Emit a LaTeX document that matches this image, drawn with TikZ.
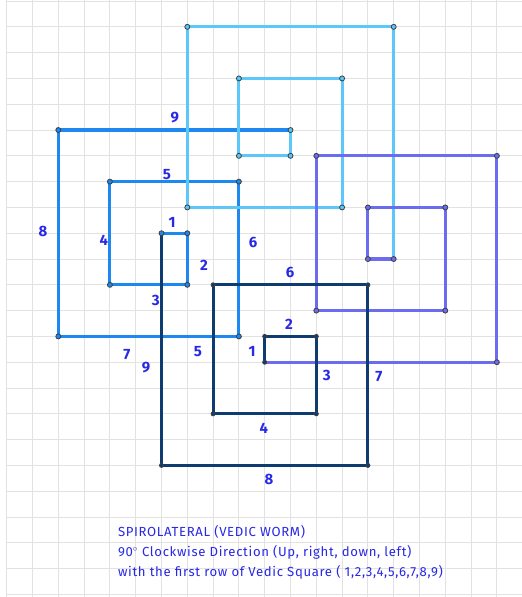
\documentclass[tikz,border=0pt]{standalone}
\usepackage{fontspec}
\setmainfont{Fira Sans}
\newfontfamily\captionfont[LetterSpace=5]{Fira Sans}
\definecolor{wormSky}{RGB}{92,200,250}
\definecolor{wormBlue}{RGB}{28,136,240}
\definecolor{wormViolet}{RGB}{108,108,240}
\definecolor{wormNavy}{RGB}{14,60,112}
\definecolor{wormLabel}{RGB}{40,40,230}
\definecolor{wormGrid}{RGB}{226,226,226}
\usetikzlibrary{positioning}

\begin{document}
\begin{tikzpicture}[
    x=1cm, y=-1cm,
    path/.style={line width=3.4pt, line join=miter},
    vertex/.style={circle, inner sep=0pt, minimum size=5.5pt, draw=black!75, line width=0.9pt},
    num/.style={font=\fontsize{16.5}{20}\selectfont\bfseries, text=wormLabel, inner sep=0pt}
  ]
  % page and grid
  \useasboundingbox (-0.26,-0.04) rectangle (19.97,23.10);
  \fill[white] (-0.26,-0.04) rectangle (19.97,23.10);
  \foreach \i in {0,...,19} \draw[wormGrid, line width=1pt] (\i,-0.04) -- (\i,23.10);
  \foreach \j in {0,...,23} \draw[wormGrid, line width=1pt] (0,\j) -- (19.97,\j);

  % first cycle: right 1 ... right 9
  \draw[path, wormBlue] (6,9) -- (7,9) -- (7,11) -- (4,11) -- (4,7) -- (9,7)
    -- (9,13) -- (2,13) -- (2,5) -- (11,5);
  % second cycle: down 1 ... down 9
  \draw[path, wormSky] (11,5) -- (11,6) -- (9,6) -- (9,3) -- (13,3) -- (13,8)
    -- (7,8) -- (7,1) -- (15,1) -- (15,10);
  % third cycle: left 1 ... left 9
  \draw[path, wormViolet] (15,10) -- (14,10) -- (14,8) -- (17,8) -- (17,12)
    -- (12,12) -- (12,6) -- (19,6) -- (19,14) -- (10,14);
  % fourth cycle: up 1 ... up 9
  \draw[path, wormNavy] (10,14) -- (10,13) -- (12,13) -- (12,16) -- (8,16)
    -- (8,11) -- (14,11) -- (14,18) -- (6,18) -- (6,9);

  % corner points
  \foreach \p in {(6,9),(7,9),(7,11),(4,11),(4,7),(9,7),(9,13),(2,13),(2,5)}
    \node[vertex, fill=wormBlue] at \p {};
  \foreach \p in {(11,5),(11,6),(9,6),(9,3),(13,3),(13,8),(7,8),(7,1),(15,1)}
    \node[vertex, fill=wormSky] at \p {};
  \foreach \p in {(15,10),(14,10),(14,8),(17,8),(17,12),(12,12),(12,6),(19,6),(19,14)}
    \node[vertex, fill=wormViolet] at \p {};
  \foreach \p in {(10,14),(10,13),(12,13),(12,16),(8,16),(8,11),(14,11),(14,18),(6,18)}
    \node[vertex, fill=wormNavy, minimum size=4.5pt] at \p {};

  % segment numbers, first cycle
  \node[num] (b1) at (6.41,8.57)  {1};
  \node[num] (b2) at (7.65,10.23) {2};
  \node[num] (b3) at (5.78,11.62) {3};
  \node[num] (b4) at (3.77,9.26)  {4};
  \node[num] (b5) at (6.21,6.71)  {5};
  \node[num] (b6) at (9.55,9.34)  {6};
  \node[num] (b7) at (4.66,13.72) {7};
  \node[num] (b8) at (1.41,8.95)  {8};
  \node[num] (b9) at (6.52,4.50)  {9};

  % segment numbers, fourth cycle
  \node[num] (n1) at (9.51,13.60)  {1};
  \node[num] (n2) at (10.94,12.52) {2};
  \node[num] (n3) at (12.41,14.50) {3};
  \node[num] (n4) at (9.97,16.55)  {4};
  \node[num] (n5) at (7.41,13.60)  {5};
  \node[num] (n6) at (10.98,10.54) {6};
  \node[num] (n7) at (14.43,14.57) {7};
  \node[num] (n8) at (10.17,18.53) {8};
  \node[num] (n9) at (5.40,14.22)  {9};

  % caption
  \node[anchor=west, align=left, text=wormLabel, inner sep=0pt,
        font=\captionfont\fontsize{14.5}{22}\selectfont] (caption) at (4.31,21.36)
    {SPIROLATERAL (VEDIC WORM)\\
     90$^\circ$ Clockwise Direction (Up, right, down, left)\\
     with the first row of Vedic Square ( 1,2,3,4,5,6,7,8,9)};
\end{tikzpicture}
\end{document}
